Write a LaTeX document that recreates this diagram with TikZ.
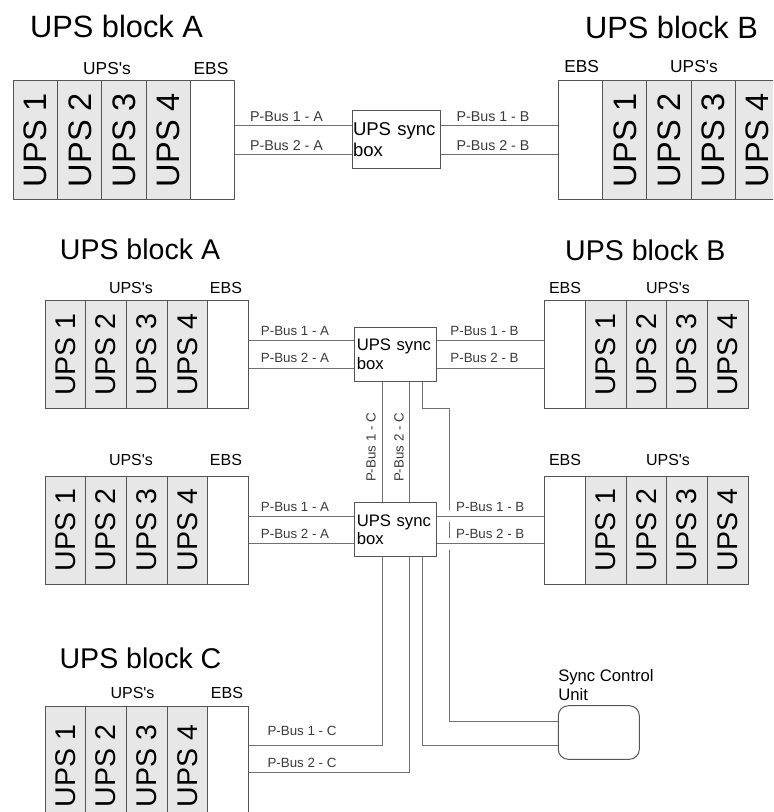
\documentclass[tikz,border=0pt]{standalone}
\usepackage{fontspec}
\setmainfont{Liberation Sans}[Ligatures=TeXOff]
\usetikzlibrary{positioning}
\definecolor{cellgray}{HTML}{E7E7E7}
\definecolor{edge}{HTML}{555555}
\definecolor{wiregray}{HTML}{707070}
\definecolor{labelgray}{HTML}{3A3A3A}

\tikzset{
  cell/.style={draw=edge, line width=0.75pt, inner sep=0pt, anchor=north west},
  ups/.style={cell, fill=cellgray},
  ebs/.style={cell, fill=white},
  bigcell/.style={minimum width=33.15pt, minimum height=89.25pt, font=\fontsize{24.4}{24}\selectfont},
  midcell/.style={minimum width=30.45pt, minimum height=81pt, font=\fontsize{21.4}{21}\selectfont},
  bigtitle/.style={font=\fontsize{23.1}{23}\selectfont},
  midtitle/.style={font=\fontsize{21.4}{21}\selectfont},
  bighead/.style={font=\fontsize{13}{13}\selectfont},
  midhead/.style={font=\fontsize{12}{12}\selectfont},
  bigbus/.style={text=labelgray, font=\fontsize{10.7}{11}\selectfont},
  midbus/.style={text=labelgray, font=\fontsize{10}{10}\selectfont},
  syncbox/.style={draw=edge, line width=0.75pt, align=left, inner ysep=0pt},
  bigsync/.style={syncbox, minimum height=43.5pt, inner xsep=0.75pt, text width=64.5pt,
    font=\fontsize{13.9}{15.75}\selectfont},
  midsync/.style={syncbox, minimum height=40.8pt, inner xsep=1.35pt, text width=58.6pt,
    font=\fontsize{12.5}{13.9}\selectfont},
  wire/.style={draw=wiregray, line width=0.75pt},
}

\begin{document}
\begin{tikzpicture}[x=0.75pt, y=-0.75pt]
  \useasboundingbox (0,0) rectangle (773,812);
  \clip (0,0) rectangle (773,812);

  % ---------- top: blocks A and B on one sync box
  \node[bigtitle] (tAt) at (116.5,26.5) {UPS block A};
  \node[bigtitle] (tBt) at (671.5,27) {UPS block B};
  \foreach \i in {1,...,4}
    \node[ups, bigcell] (tA\i) at ({13+(\i-1)*44.2},80) {\rotatebox{90}{UPS \i}};
  \node[ebs, bigcell] (tAe) at (189.8,80) {};
  \node[ebs, bigcell] (tBe) at (558,80) {};
  \foreach \i in {1,...,4}
    \node[ups, bigcell] (tB\i) at ({602.2+(\i-1)*44.2},80) {\rotatebox{90}{UPS \i}};
  \node[bighead] (tAu) at (107,69) {UPS's};
  \node[bighead] (tAh) at (211,69) {EBS};
  \node[bighead] (tBh) at (581.7,67) {EBS};
  \node[bighead] (tBu) at (694,67) {UPS's};

  \node[bigsync] (tSync) at (396,140) {UPS sync\\box};
  \coordinate (tS1) at ([yshift=10.7pt]tSync.west);
  \coordinate (tS2) at ([yshift=-10.7pt]tSync.west);
  \coordinate (tS3) at ([yshift=10.7pt]tSync.east);
  \coordinate (tS4) at ([yshift=-10.7pt]tSync.east);
  \draw[wire] (tAe.east |- tS1) -- (tS1);
  \draw[wire] (tAe.east |- tS2) -- (tS2);
  \draw[wire] (tS3) -- (tS3 -| tBe.west);
  \draw[wire] (tS4) -- (tS4 -| tBe.west);
  \node[bigbus] (tL1) at (286.5,116.7) {P-Bus 1 - A};
  \node[bigbus] (tL2) at (286.5,145.3) {P-Bus 2 - A};
  \node[bigbus] (tL3) at (493,116.7) {P-Bus 1 - B};
  \node[bigbus] (tL4) at (493,145.3) {P-Bus 2 - B};

  % ---------- middle: two pairs of A and B, two sync boxes
  \node[midtitle] (mAt) at (140,249) {UPS block A};
  \node[midtitle] (mBt) at (645.3,250) {UPS block B};
  \foreach \r/\y/\h in {m/300/288, l/475.7/460} {
    \foreach \i in {1,...,4}
      \node[ups, midcell] (\r A\i) at ({44.7+(\i-1)*40.6},\y) {\rotatebox{90}{UPS \i}};
    \node[ebs, midcell] (\r Ae) at (207.1,\y) {};
    \node[ebs, midcell] (\r Be) at (544.3,\y) {};
    \foreach \i in {1,...,4}
      \node[ups, midcell] (\r B\i) at ({585+(\i-1)*40.68},\y) {\rotatebox{90}{UPS \i}};
    \node[midhead] (\r Au) at (131,\h) {UPS's};
    \node[midhead] (\r Ah) at (226,\h) {EBS};
    \node[midhead] (\r Bh) at (565,\h) {EBS};
    \node[midhead] (\r Bu) at (668,\h) {UPS's};
  }

  \node[midsync] (mSync) at (395.85,354.5) {UPS sync\\box};
  \node[midsync] (lSync) at (395.85,529.7) {UPS sync\\box};
  \foreach \s in {m,l} {
    \coordinate (\s S1) at ([yshift=10.2pt]\s Sync.west);
    \coordinate (\s S2) at ([yshift=-10.2pt]\s Sync.west);
    \coordinate (\s S3) at ([yshift=10.2pt]\s Sync.east);
    \coordinate (\s S4) at ([yshift=-10.2pt]\s Sync.east);
    \draw[wire] (\s Ae.east |- \s S1) -- (\s S1);
    \draw[wire] (\s Ae.east |- \s S2) -- (\s S2);
    \draw[wire] (\s S3) -- (\s S3 -| \s Be.west);
    \draw[wire] (\s S4) -- (\s S4 -| \s Be.west);
  }
  \node[midbus] (mL1) at (295,330.7) {P-Bus 1 - A};
  \node[midbus] (mL2) at (295,357.7) {P-Bus 2 - A};
  \node[midbus] (mL3) at (484.5,330.7) {P-Bus 1 - B};
  \node[midbus] (mL4) at (484.5,357.7) {P-Bus 2 - B};
  \node[midbus] (lL1) at (295,506.7) {P-Bus 1 - A};
  \node[midbus] (lL2) at (295,534) {P-Bus 2 - A};
  \node[midbus] (lL3) at (490.3,506.7) {P-Bus 1 - B};
  \node[midbus] (lL4) at (490.3,534) {P-Bus 2 - B};

  % ---------- bottom: block C and the sync control unit
  \node[midtitle] (cAt) at (140.5,658) {UPS block C};
  \foreach \i in {1,...,4}
    \node[ups, midcell, minimum height=90pt] (cA\i) at ({44.7+(\i-1)*40.6},705.7) {\rotatebox{90}{UPS \i}};
  \node[ebs, midcell, minimum height=90pt] (cAe) at (207.1,705.7) {};
  \node[midhead] (cAu) at (132.5,692.7) {UPS's};
  \node[midhead] (cAh) at (227,692.7) {EBS};

  \node[draw=edge, line width=0.75pt, rounded corners=7.5pt, minimum width=60.75pt,
    minimum height=40.2pt] (scu) at (598.8,732.5) {};
  \node[anchor=south west, inner sep=0pt, align=left, font=\fontsize{12.5}{14.25}\selectfont]
    (scuL) at (558,700.7) {Sync Control\\Unit};

  % wires between the two sync boxes and down to C / control unit
  \coordinate (x1) at (382.7,0);
  \coordinate (x2) at (409.3,0);
  \coordinate (x3) at (422.7,0);
  \coordinate (x4) at (449.3,408);
  \coordinate (y0) at (0,721.7);
  \coordinate (y1) at (0,745.7);
  \coordinate (y2) at (0,772.7);
  \coordinate (g1) at (449.3,510.4);
  \coordinate (g2) at (449.3,522.4);
  \coordinate (g3) at (449.3,537.6);
  \coordinate (g4) at (449.3,549.6);
  \draw[wire] (x1 |- mSync.south) -- (x1 |- lSync.north);
  \draw[wire] (x2 |- mSync.south) -- (x2 |- lSync.north);
  \draw[wire] (x3 |- mSync.south) |- (x4) -- (g1);
  \draw[wire] (g2) -- (g3);
  \draw[wire] (g4) |- (scu.west |- y0);
  \draw[wire] (x1 |- lSync.south) |- (cAe.east |- y1);
  \draw[wire] (x2 |- lSync.south) |- (cAe.east |- y2);
  \draw[wire] (x3 |- lSync.south) |- (scu.west |- y1);
  \node[midbus, rotate=90] (vL1) at (371,447.5) {P-Bus 1 - C};
  \node[midbus, rotate=90] (vL2) at (399,447.5) {P-Bus 2 - C};
  \node[midbus] (cL1) at (302,731) {P-Bus 1 - C};
  \node[midbus] (cL2) at (302,763.3) {P-Bus 2 - C};
\end{tikzpicture}
\end{document}
